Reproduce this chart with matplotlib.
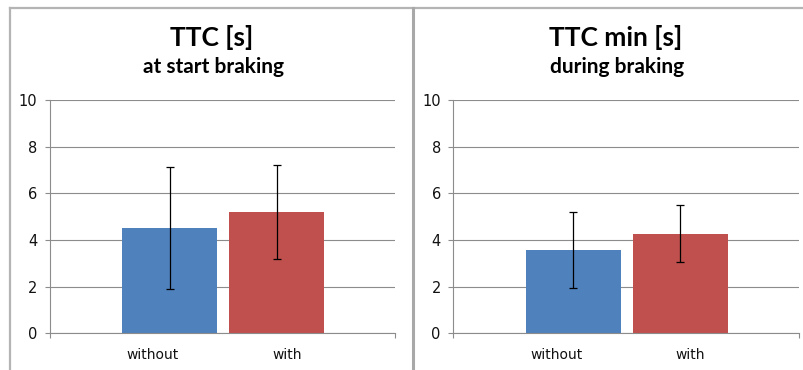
import matplotlib
matplotlib.use('Agg')
import matplotlib.pyplot as plt
from matplotlib.lines import Line2D

# Mean time-to-collision per condition, with standard deviation
groups = ['without', 'with']
ttc_start = [4.51, 5.20]
ttc_start_sd = [2.61, 2.02]
ttc_min = [3.56, 4.27]
ttc_min_sd = [1.63, 1.21]

panel_titles = ['TTC [s]', 'TTC min [s]']
panel_subtitles = ['at start braking', 'during braking']
bar_colors = ['#4F81BD', '#C0504D']
yticks = [0, 2, 4, 6, 8, 10]

W, H = 804, 370
fig = plt.figure(figsize=(W / 100, H / 100), dpi=100)
fig.patch.set_facecolor('white')

grid_color = '#8c8c8c'
frame_color = '#b4b4b4'

# chart frames
def fig_line(x0, y0, x1, y1, lw, color):
    fig.add_artist(Line2D([x0 / W, x1 / W], [1 - y0 / H, 1 - y1 / H],
                          transform=fig.transFigure, lw=lw, color=color))

fig_line(10, 8, W, 8, 1.6, frame_color)
fig_line(10, 8, 10, H, 1.6, frame_color)
fig_line(413, 8, 413, H, 2.2, '#a8a8a8')

bar_x = [0.346, 0.657]
bar_w = 0.275
label_x = [0.298, 0.686]

panels = [
    (50, ttc_start, ttc_start_sd, 212),
    (453.5, ttc_min, ttc_min_sd, 616),
]

for i, (left, vals, sds, title_x) in enumerate(panels):
    ax = fig.add_axes([left / W, (H - 333.3) / H, 345.5 / W, 233.3 / H])
    ax.bar(bar_x, vals, width=bar_w, color=bar_colors, zorder=2)
    ax.errorbar(bar_x, vals, yerr=sds, fmt='none', ecolor='black',
                elinewidth=0.9, capsize=3.2, capthick=0.9, zorder=3)

    ax.set_xlim(0, 1)
    ax.set_ylim(0, 10)
    ax.set_yticks(yticks)
    ax.yaxis.grid(True, color=grid_color, lw=0.8, zorder=0)
    ax.set_axisbelow(True)

    ax.set_xticks(label_x)
    ax.set_xticklabels(groups, fontsize=10, color='#111111')
    ax.tick_params(axis='x', length=0, pad=10.5)
    ax.set_xticks([0, 1], minor=True)
    ax.tick_params(axis='x', which='minor', length=3.6, width=0.8, color=grid_color, direction='out')
    ax.tick_params(axis='y', length=3.6, width=0.8, color=grid_color, pad=5.5,
                   labelsize=10.5, labelcolor='#111111')

    for side in ['top', 'right']:
        ax.spines[side].set_visible(False)
    for side in ['left', 'bottom']:
        ax.spines[side].set_color(grid_color)
        ax.spines[side].set_linewidth(0.8)

    fig.text(title_x / W, 1 - 37 / H, panel_titles[i], ha='center', va='center',
             fontsize=19, fontweight='bold', family='Lato')
    fig.text(title_x / W + 1.5 / W, 1 - 67 / H, panel_subtitles[i], ha='center', va='center',
             fontsize=15, fontweight='bold', family='Lato')

plt.savefig('out.png', dpi=100)
